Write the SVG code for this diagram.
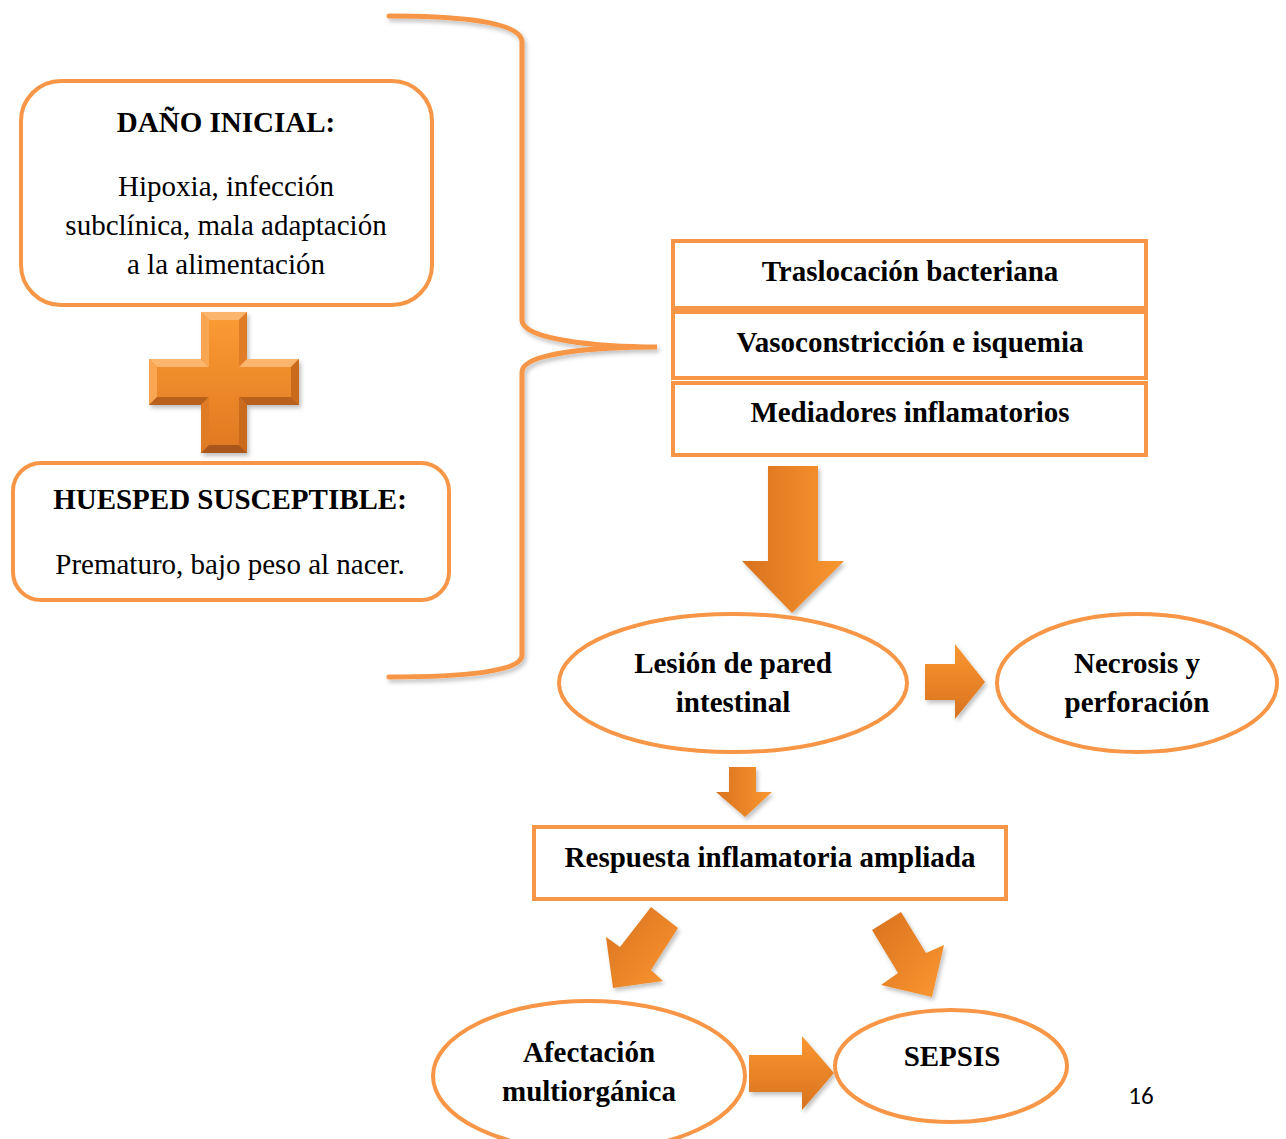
<svg xmlns="http://www.w3.org/2000/svg" width="1286" height="1139" viewBox="0 0 1286 1139">
<defs>
<style>
.box{fill:#fff;stroke:#F79646;stroke-width:4}
.t{font-family:"Liberation Serif","Times New Roman",serif;font-size:29px;fill:#000;text-anchor:middle}
.b{font-weight:bold}
.arr{filter:url(#sh)}
</style>
<filter id="sh" x="-20%" y="-20%" width="150%" height="150%">
<feDropShadow dx="2" dy="3" stdDeviation="2" flood-color="#000" flood-opacity="0.25"/>
</filter>
<linearGradient id="gH" x1="0" y1="0" x2="1" y2="0">
<stop offset="0" stop-color="#D8721F"/><stop offset="1" stop-color="#FA9731"/>
</linearGradient>
<linearGradient id="gV" x1="0" y1="0" x2="0" y2="1">
<stop offset="0" stop-color="#FA9731"/><stop offset="1" stop-color="#D8721F"/>
</linearGradient>
<linearGradient id="gD" x1="0" y1="0" x2="1" y2="1">
<stop offset="0" stop-color="#D8721F"/><stop offset="1" stop-color="#FA9731"/>
</linearGradient>
<linearGradient id="gP" x1="0" y1="0" x2="0" y2="1">
<stop offset="0" stop-color="#FA9A33"/><stop offset="1" stop-color="#E07A22"/>
</linearGradient>
</defs>
<rect width="1286" height="1139" fill="#fff"/>

<g id="connectors">
<path d="M389,16 C462,16 522,22 522,42 L522,320 C522,340 600,347 657,347 C600,347 522,352 522,372 L522,655 C522,672 462,677 389,677" fill="none" stroke="#F79646" stroke-width="5" stroke-linecap="round" filter="url(#sh)"/>
<polygon class="arr" fill="url(#gH)" points="768,466 818,466 818,561 844,561 792,613 742,561 768,561"/>
<polygon class="arr" fill="url(#gV)" points="925,664 955,664 955,644 985,682 955,719 955,700 925,700"/>
<polygon class="arr" fill="url(#gH)" points="729,767 756,767 756,792 772,792 745,817 716,792 729,792"/>
<polygon class="arr" fill="url(#gD)" points="651,907 678,928 651,970 663,981 613,988 606,937 620,947"/>
<polygon class="arr" fill="url(#gD)" points="872,930 901,912 926,953 944,945 932,997 881,985 898,973"/>
<polygon class="arr" fill="url(#gV)" points="749,1055 802,1055 802,1036 834,1073 802,1110 802,1092 749,1092"/>
</g>

<g id="dano">
<rect class="box" x="21" y="81" width="411" height="224" rx="40"/>
<text class="t b" x="226" y="132">DAÑO INICIAL:</text>
<text class="t" x="226" y="196">Hipoxia, infección</text>
<text class="t" x="226" y="235">subclínica, mala adaptación</text>
<text class="t" x="226" y="274">a la alimentación</text>
</g>

<g id="plus" filter="url(#sh)">
<path d="M201,312 H247 V359 H299 V405 H247 V453 H201 V405 H149 V359 H201 Z" fill="#E8852B"/>
<polygon points="201,312 247,312 239,320 209,320" fill="#FBB56D"/>
<polygon points="201,312 209,320 209,367 201,359" fill="#F9A652"/>
<polygon points="247,312 247,359 239,367 239,320" fill="#E07C25"/>
<polygon points="149,359 201,359 209,367 157,367" fill="#FBB56D"/>
<polygon points="247,359 299,359 291,367 239,367" fill="#FBB56D"/>
<polygon points="149,359 157,367 157,397 149,405" fill="#F9A652"/>
<polygon points="299,359 299,405 291,397 291,367" fill="#C96A1E"/>
<polygon points="149,405 201,405 209,397 157,397" fill="#B8601A"/>
<polygon points="247,405 299,405 291,397 239,397" fill="#B8601A"/>
<polygon points="201,405 201,453 209,445 209,397" fill="#E07C25"/>
<polygon points="247,405 239,397 239,445 247,453" fill="#C96A1E"/>
<polygon points="201,453 247,453 239,445 209,445" fill="#A9561A"/>
<path d="M209,320 H239 V367 H291 V397 H239 V445 H209 V397 H157 V367 H209 Z" fill="url(#gP)"/>
</g>

<g id="huesped">
<rect class="box" x="13" y="463" width="436" height="137" rx="28"/>
<text class="t b" x="230" y="509">HUESPED SUSCEPTIBLE:</text>
<text class="t" x="230" y="574">Prematuro, bajo peso al nacer.</text>
</g>

<g id="traslocacion">
<rect class="box" x="673" y="241" width="473" height="67"/>
<text class="t b" x="910" y="281">Traslocación bacteriana</text>
</g>
<g id="vasoconstriccion">
<rect class="box" x="673" y="312" width="473" height="66"/>
<text class="t b" x="910" y="352">Vasoconstricción e isquemia</text>
</g>
<g id="mediadores">
<rect class="box" x="673" y="383" width="473" height="72"/>
<text class="t b" x="910" y="422">Mediadores inflamatorios</text>
</g>

<g id="lesion">
<ellipse class="box" cx="733" cy="683" rx="174" ry="69"/>
<text class="t b" x="733" y="673">Lesión de pared</text>
<text class="t b" x="733" y="712">intestinal</text>
</g>
<g id="necrosis">
<ellipse class="box" cx="1137" cy="683" rx="140" ry="69"/>
<text class="t b" x="1137" y="673">Necrosis y</text>
<text class="t b" x="1137" y="712">perforación</text>
</g>

<g id="respuesta">
<rect class="box" x="534" y="827" width="472" height="72"/>
<text class="t b" x="770" y="867">Respuesta inflamatoria ampliada</text>
</g>

<g id="afectacion">
<ellipse class="box" cx="589" cy="1076" rx="156" ry="75"/>
<text class="t b" x="589" y="1062">Afectación</text>
<text class="t b" x="589" y="1101">multiorgánica</text>
</g>
<g id="sepsis">
<ellipse class="box" cx="951" cy="1066" rx="116" ry="56"/>
<text class="t b" x="952" y="1066">SEPSIS</text>
</g>

<text x="1141" y="1104" font-family="Carlito,'Liberation Sans',sans-serif" font-size="25" text-anchor="middle" fill="#000">16</text>
</svg>
